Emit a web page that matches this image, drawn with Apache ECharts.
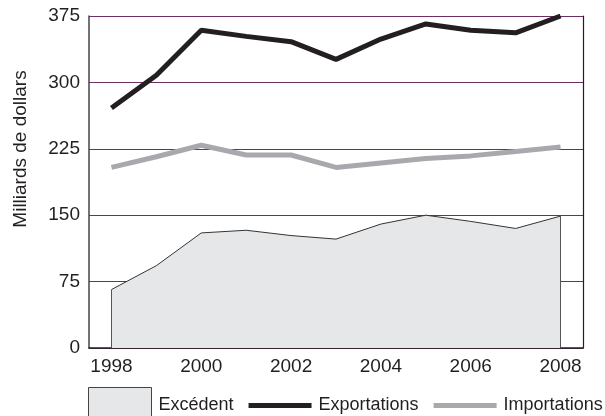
<!DOCTYPE html>
<html><head><meta charset="utf-8">
<script src="https://cdn.jsdelivr.net/npm/echarts@6/dist/echarts.min.js"></script>
<style>html,body{margin:0;padding:0;background:#fff}#c{width:605px;height:416px}</style>
</head><body><div id="c"></div>
<script>
const years = ['1998','1999','2000','2001','2002','2003','2004','2005','2006','2007','2008'];
const exportations = [271, 308, 359, 352, 346, 326, 349, 366, 359, 356, 375];
const importations = [204, 216, 229, 218, 218, 204, 209, 214, 217, 222, 227];
const excedent = [66, 93, 130, 133, 127, 123, 140, 150, 143, 135, 149];
const yTicks = [0, 75, 150, 225, 300, 375];
const yName = 'Milliards de dollars';

const font = '"Liberation Sans", Arial, sans-serif';
const chart = echarts.init(document.getElementById('c'));
chart.setOption({
  animation: false,
  grid: {left: 89, right: 22, top: 16, bottom: 68},
  xAxis: {
    type: 'category', data: years, boundaryGap: true,
    axisLine: {lineStyle: {color: '#231f20', width: 1.5}},
    axisTick: {inside: true, length: 7, lineStyle: {color: '#444', width: 1}},
    axisLabel: {interval: 1, margin: 9, color: '#231f20', fontFamily: font, fontSize: 19}
  },
  yAxis: [{
    type: 'value', min: yTicks[0], max: yTicks[yTicks.length-1], interval: 75,
    axisLine: {show: true, lineStyle: {color: '#444', width: 1.5}},
    axisTick: {show: false},
    axisLabel: {margin: 9, color: '#231f20', fontFamily: font, fontSize: 19},
    splitLine: {lineStyle: {color: '#6e2d63', width: 1.2}}
  }, {
    type: 'value', min: yTicks[0], max: yTicks[yTicks.length-1], interval: 75, position: 'right',
    axisLine: {show: true, lineStyle: {color: '#231f20', width: 1.2}},
    axisTick: {show: false}, axisLabel: {show: false}, splitLine: {show: false}
  }],
  legend: {
    left: 88, top: 387, padding: 0, itemWidth: 63, itemHeight: 36, itemGap: 15,
    textStyle: {fontFamily: font, fontSize: 18, color: '#231f20', padding: [0,0,0,2]},
    data: [
      {name: 'Excédent', icon: 'rect', itemStyle: {color: '#e6e7e8', borderColor: '#444', borderWidth: 1}},
      {name: 'Exportations', icon: 'path://M0,0h62v5h-62z', itemStyle: {color: '#231f20'}},
      {name: 'Importations', icon: 'path://M0,0h62v5h-62z', itemStyle: {color: '#a7a9ac'}}
    ]
  },
  graphic: [{
    type: 'text', x: 21, y: 149, rotation: Math.PI/2,
    style: {text: yName, font: '19px "Liberation Sans", Arial, sans-serif', fill: '#231f20', textAlign: 'center', textVerticalAlign: 'middle'}
  }],
  series: [{
    name: 'Excédent', type: 'line', data: excedent, symbol: 'none',
    lineStyle: {color: '#333', width: 1}, itemStyle: {color: '#e6e7e8'},
    areaStyle: {color: '#e6e7e8', opacity: 1},
    markLine: {
      silent: true, symbol: 'none', label: {show: false},
      lineStyle: {color: '#555', width: 1, type: 'solid'},
      data: [
        [{coord: [years[0], 0]}, {coord: [years[0], excedent[0]]}],
        [{coord: [years[years.length-1], 0]}, {coord: [years[years.length-1], excedent[excedent.length-1]]}]
      ]
    }
  }, {
    name: 'Exportations', type: 'line', data: exportations, symbol: 'none',
    lineStyle: {color: '#231f20', width: 5}, itemStyle: {color: '#231f20'}
  }, {
    name: 'Importations', type: 'line', data: importations, symbol: 'none',
    lineStyle: {color: '#a7a9ac', width: 5}, itemStyle: {color: '#a7a9ac'}
  }]
});
</script></body></html>
